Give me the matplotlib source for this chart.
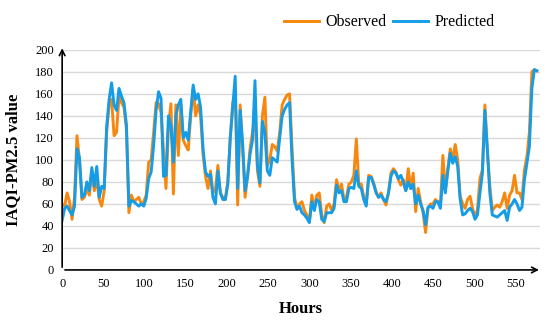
import numpy as np
import matplotlib
matplotlib.use("Agg")
import matplotlib.pyplot as plt

plt.rcParams['font.family'] = ['Liberation Serif', 'DejaVu Serif']

# hourly samples (every 3 hours)
hours = np.arange(0, 577, 3)
observed = [60, 58, 70, 62, 46, 66, 122, 100, 64, 66, 74, 68, 90, 72, 82, 64, 58, 72,
            125, 150, 155, 122, 125, 158, 152, 148, 128, 52, 68, 62, 64, 66, 60, 62,
            68, 98, 100, 125, 152, 151, 143, 109, 74, 130, 151, 69, 150, 104, 150, 118,
            113, 109, 140, 165, 140, 150, 140, 105, 85, 74, 90, 70, 73, 95, 70, 66,
            64, 80, 120, 152, 160, 59, 150, 110, 66, 85, 110, 125, 140, 90, 76, 140,
            157, 95, 100, 114, 112, 108, 125, 150, 155, 159, 160, 110, 66, 56, 60, 62,
            54, 50, 44, 68, 56, 68, 70, 50, 43, 58, 60, 54, 60, 82, 72, 78, 64, 66,
            78, 80, 86, 119, 78, 78, 66, 60, 86, 85, 79, 71, 66, 70, 64, 59, 70, 88,
            92, 89, 82, 77, 82, 72, 92, 74, 88, 53, 74, 62, 52, 34, 56, 60, 60, 64,
            62, 58, 104, 72, 92, 110, 100, 114, 100, 67, 60, 56, 64, 67, 56, 48, 55,
            83, 91, 150, 109, 76, 54, 57, 59, 57, 62, 70, 56, 68, 72, 86, 70, 70, 64,
            91, 103, 125, 180, 182, 181]
predicted = [45, 56, 58, 54, 50, 58, 110, 102, 66, 68, 80, 72, 93, 76, 94, 66, 76, 74,
             130, 155, 170, 150, 145, 165, 158, 152, 132, 58, 63, 62, 60, 58, 60, 58,
             65, 83, 89, 113, 145, 162, 156, 85, 86, 140, 131, 98, 140, 150, 155, 120,
             125, 118, 144, 168, 155, 160, 148, 110, 89, 85, 87, 66, 60, 90, 70, 64,
             64, 78, 120, 148, 176, 74, 145, 115, 72, 85, 105, 118, 172, 95, 79, 135,
             125, 90, 86, 102, 100, 98, 120, 140, 146, 150, 152, 100, 62, 55, 58, 52,
             50, 47, 43, 62, 54, 64, 62, 46, 44, 52, 52, 52, 56, 77, 70, 72, 62, 62,
             74, 75, 74, 90, 76, 74, 64, 58, 84, 84, 78, 70, 66, 68, 64, 62, 70, 85,
             90, 88, 83, 86, 80, 72, 80, 74, 78, 60, 68, 60, 54, 41, 57, 58, 56, 62,
             62, 56, 86, 70, 90, 106, 97, 103, 94, 64, 50, 51, 54, 56, 53, 46, 50,
             70, 88, 145, 109, 70, 50, 49, 48, 50, 52, 54, 45, 57, 60, 64, 60, 54, 57,
             82, 97, 112, 165, 182, 181]
y_ticks = [0, 20, 40, 60, 80, 100, 120, 140, 160, 180, 200]
x_ticks = [0, 50, 100, 150, 200, 250, 300, 350, 400, 450, 500, 550]

fig = plt.figure(figsize=(5.5, 3.28), dpi=100)
ax = fig.add_axes([0.113, 0.177, 0.869, 0.671])

ax.plot(hours, observed, color='#F7870F', linewidth=2.1, label='Observed')
ax.plot(hours, predicted, color='#149DE6', linewidth=2.1, label='Predicted')

ax.set_xlim(0, 580)
ax.set_ylim(0, 200)
ax.set_yticks(y_ticks)
ax.set_xticks(x_ticks)
ax.tick_params(length=0, labelsize=9, pad=6)
ax.yaxis.grid(True, color='#D9D9D9', linewidth=1)
ax.set_axisbelow(True)
for s in ['top', 'right', 'left', 'bottom']:
    ax.spines[s].set_visible(False)

# axis arrows
ax.annotate('', xy=(0, 204), xytext=(0, 0), xycoords='data',
            arrowprops=dict(arrowstyle='->', color='black', lw=1.2), annotation_clip=False)
ax.annotate('', xy=(582, 0), xytext=(0, 0), xycoords='data',
            arrowprops=dict(arrowstyle='->', color='black', lw=1.2), annotation_clip=False)

ax.set_xlabel('Hours', fontsize=12, fontweight='bold', labelpad=8)
ax.set_ylabel('IAQI-PM2.5 value', fontsize=12, fontweight='bold', labelpad=10)

fig.legend(loc='upper right', bbox_to_anchor=(0.925, 1.0), ncol=2, frameon=False,
           fontsize=11.5, handlelength=2.2, handletextpad=0.4, columnspacing=0.4)

fig.savefig('out.png', dpi=100)
